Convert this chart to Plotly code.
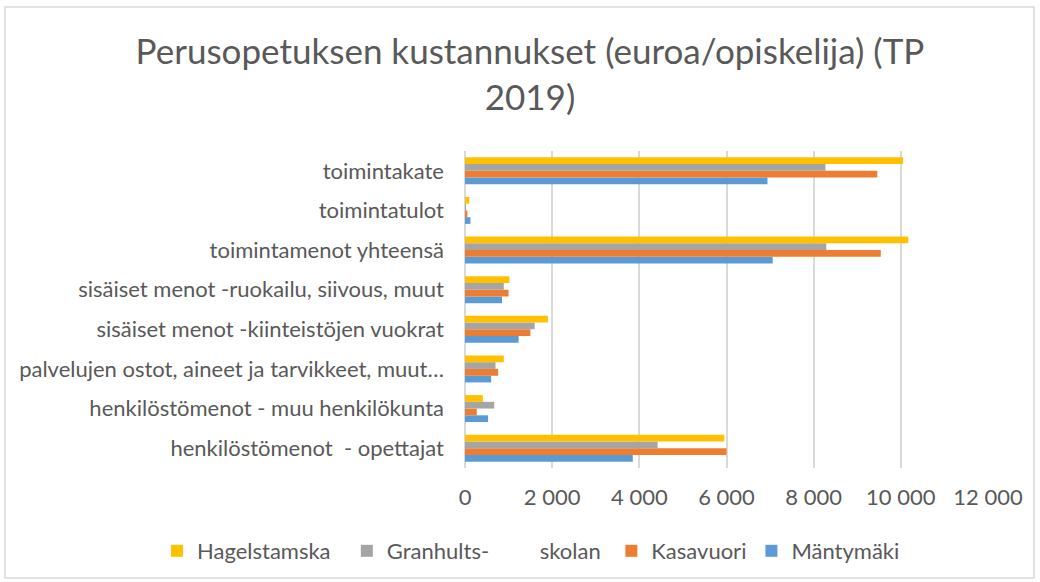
import plotly.graph_objects as go

categories = [
    "henkilöstömenot  - opettajat",
    "henkilöstömenot - muu henkilökunta",
    "palvelujen ostot, aineet ja tarvikkeet, muut…",
    "sisäiset menot -kiinteistöjen vuokrat",
    "sisäiset menot -ruokailu, siivous, muut",
    "toimintamenot yhteensä",
    "toimintatulot",
    "toimintakate",
]
hagelstamska = [5950, 410, 890, 1900, 1020, 10170, 100, 10050]
granhults = [4420, 670, 700, 1600, 890, 8290, 10, 8270]
kasavuori = [6000, 270, 760, 1500, 1000, 9540, 55, 9460]
mantymaki = [3850, 530, 600, 1230, 850, 7060, 125, 6940]

NB = "\u00a0"
series = [
    ("Mäntymäki", mantymaki, "#5B9BD5"),
    ("Kasavuori", kasavuori, "#ED7D31"),
    ("Granhults-" + NB * 9 + "skolan" + NB, granhults, "#A5A5A5"),
    ("Hagelstamska" + NB * 2, hagelstamska, "#FFC000"),
]

font = "Lato, 'Open Sans', sans-serif"
txt = "#595959"

# plot area in pixels
L, R, T, B = 465, 988, 151, 468
W, H = 1040, 582
pw, ph = R - L, B - T

fig = go.Figure()
for name, vals, col in series:
    fig.add_trace(go.Bar(
        y=categories, x=vals, name=name, orientation="h",
        marker=dict(color=col, line=dict(width=0)),
    ))

fig.update_layout(
    width=W, height=H,
    barmode="group", bargap=0.32, bargroupgap=0,
    separators=", ",
    paper_bgcolor="white", plot_bgcolor="white",
    margin=dict(l=L, r=W - R, t=T, b=H - B, autoexpand=False),
    font=dict(family=font, color=txt, size=22),
    title=dict(
        text="Perusopetuksen kustannukset (euroa/opiskelija) (TP<br>2019)",
        xref="container", yref="container",
        x=530 / W, xanchor="center", y=1 - 64 / H, yanchor="top",
        font=dict(size=35, color=txt, family=font),
    ),
    legend=dict(
        orientation="h", traceorder="reversed",
        xref="paper", yref="paper",
        x=(157 - L) / pw, xanchor="left", y=(B - 551) / ph, yanchor="middle",
        font=dict(size=22, color=txt), itemwidth=30,
        bgcolor="rgba(0,0,0,0)",
    ),
    showlegend=True,
    shapes=[dict(
        type="rect", xref="paper", yref="paper",
        x0=(5 - L) / pw, x1=(1034 - L) / pw, y0=(B - 578) / ph, y1=(B - 7) / ph,
        line=dict(color="#D9D9D9", width=1.5), fillcolor="rgba(0,0,0,0)", layer="below",
    )],
)
fig.update_xaxes(
    range=[0, 12000], dtick=2000, tickformat=",d",
    showgrid=True, gridcolor="#D9D9D9", gridwidth=1.5,
    zeroline=True, zerolinecolor="#D9D9D9", zerolinewidth=1.5,
    showline=False, ticks="", ticklabelstandoff=14,
    tickfont=dict(size=22, color=txt),
)
fig.update_yaxes(
    showgrid=False, showline=False, ticks="", ticklabelstandoff=20,
    tickfont=dict(size=22, color=txt),
)

fig.write_html("out.html", config={"displayModeBar": False},
               post_script="document.body.style.margin='0';")
